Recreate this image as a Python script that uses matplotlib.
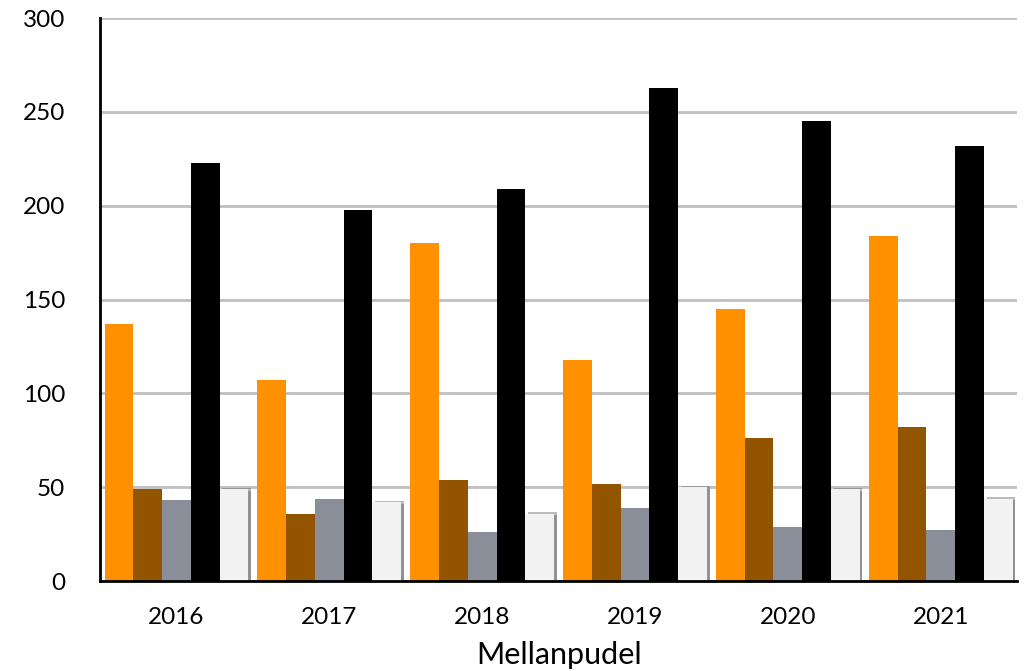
import numpy as np
import matplotlib
matplotlib.use("Agg")
import matplotlib.pyplot as plt
import matplotlib.patheffects as pe

years = ["2016", "2017", "2018", "2019", "2020", "2021"]
orange = [137, 107, 180, 118, 145, 184]
brown = [49, 36, 54, 52, 76, 82]
grey = [43, 44, 26, 39, 29, 27]
black = [223, 198, 209, 263, 245, 232]
white = [49, 42, 36, 50, 49, 44]

series = [orange, brown, grey, black, white]
colors = ["#ff9100", "#935400", "#898e99", "#000000", "#f2f2f2"]

plt.rcParams["font.family"] = ["Lato", "DejaVu Sans"]

fig = plt.figure(figsize=(10.27, 6.71), dpi=100)
ax = fig.add_axes([0.0974, 0.134, 0.893, 0.839])

x = np.arange(len(years))
w = 0.188
for i, (vals, c) in enumerate(zip(series, colors)):
    bars = ax.bar(x + (i - 2) * w, vals, width=w, color=c, zorder=3)
    if i == 4:
        # light drop shadow round the pale bars
        for b in bars:
            b.set_path_effects([pe.SimplePatchShadow(offset=(2, 1), shadow_rgbFace="#555555", alpha=0.4),
                                pe.SimplePatchShadow(offset=(2, -1), shadow_rgbFace="#555555", alpha=0.4),
                                pe.Normal()])

ax.set_xlim(-0.5, 5.5)
ax.set_ylim(0, 300)
ax.set_yticks(range(0, 301, 50))
ax.set_xticks(x)
ax.set_xticklabels(years)
ax.yaxis.grid(True, color="#bfbfbf", linewidth=2, zorder=0)
ax.set_axisbelow(True)
for s in ["top", "right"]:
    ax.spines[s].set_visible(False)
for s in ["left", "bottom"]:
    ax.spines[s].set_linewidth(2)
    ax.spines[s].set_color("black")
ax.spines["bottom"].set_zorder(4)
ax.tick_params(length=0, labelsize=17.5)
ax.tick_params(axis="x", pad=19)
ax.tick_params(axis="y", pad=25)
for lbl in ax.get_yticklabels():
    lbl.set_horizontalalignment("right")
ax.set_xlabel("Mellanpudel", fontsize=22, labelpad=9)

fig.savefig("out.png", dpi=100)
